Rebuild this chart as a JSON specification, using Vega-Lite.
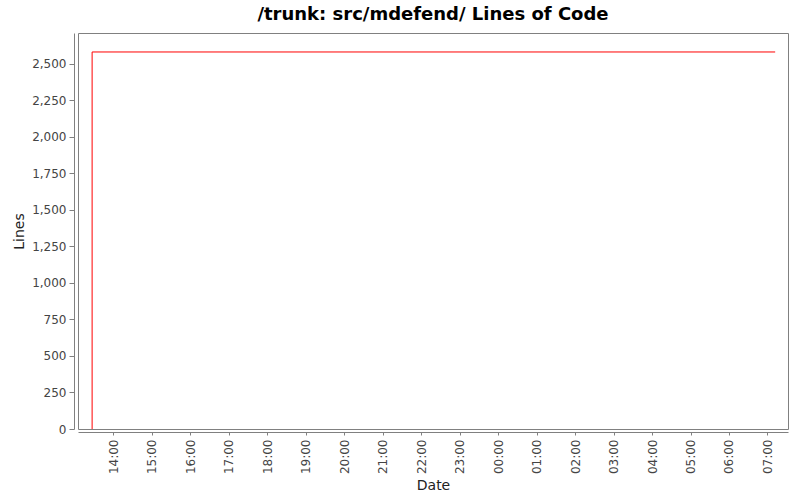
{
  "$schema": "https://vega.github.io/schema/vega-lite/v6.json",
  "autosize": "none",
  "width": 710,
  "height": 396,
  "padding": {"left": 78, "top": 33, "right": 12, "bottom": 71},
  "background": "white",
  "title": {
    "text": "/trunk: src/mdefend/ Lines of Code",
    "font": "DejaVu Sans",
    "fontSize": 18,
    "fontWeight": "bold",
    "color": "#000000",
    "anchor": "middle",
    "offset": 9
  },
  "config": {
    "view": {"stroke": "#808080", "strokeWidth": 1},
    "axis": {
      "labelFont": "DejaVu Sans",
      "labelFontSize": 12,
      "labelColor": "#444444",
      "titleFont": "DejaVu Sans",
      "titleFontSize": 14,
      "titleFontWeight": "normal",
      "titleColor": "#222222",
      "domainColor": "#808080",
      "tickColor": "#808080",
      "grid": false
    }
  },
  "data": {
    "values": [
      {"i": 1, "date": "2010-01-01T13:27:00Z", "lines": 0},
      {"i": 2, "date": "2010-01-01T13:27:00Z", "lines": 2582},
      {"i": 3, "date": "2010-01-02T07:12:00Z", "lines": 2582}
    ]
  },
  "mark": {"type": "line", "color": "#ff0000", "strokeWidth": 1},
  "encoding": {
    "order": {"field": "i", "type": "quantitative"},
    "x": {
      "field": "date",
      "type": "temporal",
      "title": "Date",
      "scale": {
        "type": "utc",
        "domain": ["2010-01-01T13:05:00Z", "2010-01-02T07:32:00Z"],
        "nice": false
      },
      "axis": {
        "format": "%H:%M",
        "tickCount": 18,
        "labelAngle": -90,
        "labelAlign": "right",
        "labelBaseline": "middle",
        "labelPadding": 4,
        "tickSize": 3,
        "offset": 3,
        "titlePadding": 5
      }
    },
    "y": {
      "field": "lines",
      "type": "quantitative",
      "title": "Lines",
      "scale": {"domain": [0, 2712], "nice": false},
      "axis": {
        "values": [0, 250, 500, 750, 1000, 1250, 1500, 1750, 2000, 2250, 2500],
        "format": ",.0f",
        "tickSize": 5,
        "offset": 4,
        "labelPadding": 3,
        "titlePadding": 5
      }
    }
  }
}
